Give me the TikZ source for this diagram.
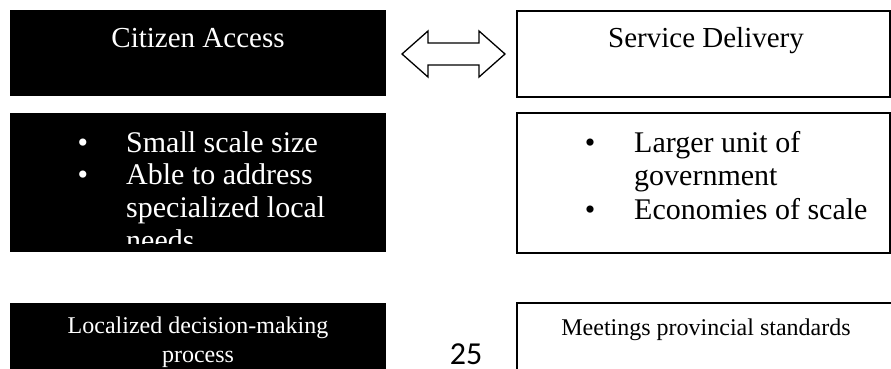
\documentclass[tikz,border=0pt]{standalone}
\usepackage{fontspec}
\setmainfont{Liberation Serif}
\newfontfamily\numfont{Carlito}
\tikzset{
  darkbox/.style={fill=black, inner sep=0pt, anchor=north west},
  openbox/.style={draw=black, line width=1.6pt, inner sep=0pt, anchor=north west},
  headtext/.style={font=\fontsize{29}{34}\selectfont, anchor=base, inner sep=0pt},
  itemtext/.style={font=\fontsize{30}{33}\selectfont, anchor=base west, inner sep=0pt},
  itemdot/.style={font=\fontsize{30}{33}\selectfont, anchor=base, inner sep=0pt},
  smalltext/.style={font=\fontsize{24}{29}\selectfont, anchor=base, inner sep=0pt}
}
\begin{document}
\begin{tikzpicture}[x=1pt, y=-1pt]
  \clip (0,0) rectangle (891,368);
  \node[darkbox, minimum width=376pt, minimum height=85.5pt] (access) at (10,10) {};
  \node[openbox, minimum width=373pt, minimum height=86pt] (delivery) at (516,10) {};
  \node[headtext, text=white] (accesstitle) at (198,47) {Citizen Access};
  \node[headtext] (deliverytitle) at (706,47) {Service Delivery};
  \coordinate (tipL) at (402,54);
  \coordinate (tipR) at (505,54);
  \draw[line width=1.3pt, fill=white, line join=miter] (tipL) -- ++(26,-23) -- ++(0,12) -- ++(51,0) -- ++(0,-12)
    -- (tipR) -- ++(-26,23) -- ++(0,-12) -- ++(-51,0) -- ++(0,12) -- cycle;
  \node[darkbox, minimum width=376pt, minimum height=139pt] (small) at (10,113) {};
  \node[openbox, minimum width=373pt, minimum height=140pt] (large) at (516,112) {};
  \begin{scope}
    \clip (10,113) rectangle (386,243);
    \foreach \y/\n in {152/a,184/b} \node[itemdot, text=white] (smalldot\n) at (83,\y) {\textbullet};
    \node[itemtext, text=white] (smallA) at (126,152) {Small scale size};
    \node[itemtext, text=white] (smallB) at (126,184) {Able to address};
    \node[itemtext, text=white] (smallC) at (126,217) {specialized local};
    \node[itemtext, text=white] (smallD) at (126,250) {needs};
  \end{scope}
  \foreach \y/\n in {152/a,219/b} \node[itemdot] (largedot\n) at (590,\y) {\textbullet};
  \node[itemtext] (largeA) at (634,152) {Larger unit of};
  \node[itemtext] (largeB) at (634,185) {government};
  \node[itemtext] (largeC) at (634,219) {Economies of scale};
  \node[darkbox, minimum width=376pt, minimum height=80pt] (local) at (10,303) {};
  \node[openbox, minimum width=400pt, minimum height=80pt] (standard) at (516,302) {};
  \node[smalltext, text=white] (localA) at (198,333) {Localized decision-making};
  \node[smalltext, text=white] (localB) at (198,362) {process};
  \node[smalltext] (standardA) at (706,335) {Meetings provincial standards};
  \node[font=\numfont\fontsize{32}{36}\selectfont, anchor=base, inner sep=0pt] (pagenum) at (466,364) {25};
\end{tikzpicture}
\end{document}
